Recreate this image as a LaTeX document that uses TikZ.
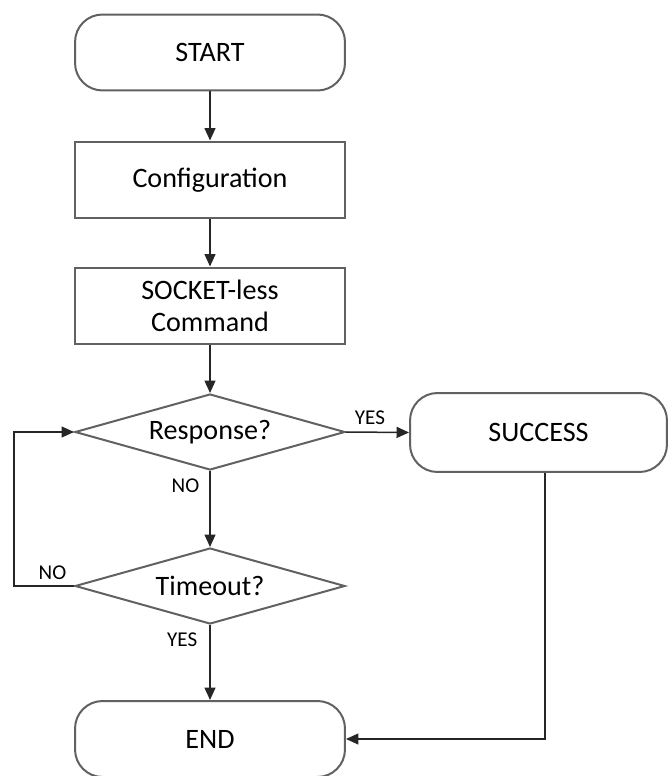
\documentclass[tikz,border=0pt]{standalone}
\usepackage{fontspec}
\setmainfont{Carlito}
\usetikzlibrary{shapes.geometric,arrows.meta}
\newcommand{\boxcol}{black!62}
\newcommand{\linecol}{black!85}
\newcommand{\boxfont}{\fontsize{16}{18.5}\selectfont}
\tikzset{
  term/.style={draw=\boxcol, line width=0.04cm, rounded corners=0.55cm,
    minimum width=5.4cm, minimum height=1.52cm, font=\boxfont},
  proc/.style={draw=\boxcol, line width=0.04cm, minimum width=5.4cm,
    minimum height=1.54cm, align=center, font=\boxfont},
  decide/.style={diamond, aspect=3.55, draw=\boxcol, line width=0.04cm,
    minimum width=5.4cm, minimum height=1.52cm, inner sep=0pt, font=\boxfont},
  flow/.style={draw=\linecol, line width=0.03cm,
    -{Triangle[length=0.25cm,width=0.22cm]}},
  tag/.style={font=\fontsize{12}{14}\selectfont, inner sep=0pt}
}

\begin{document}
\begin{tikzpicture}[x=0.02cm, y=-0.02cm]

    \useasboundingbox (0, 0) rectangle (668, 776);

    \node[term] (start) at (210, 52.5) {START};
    \node[proc] (config) at (210, 180) {Configuration};
    \node[proc] (socket) at (210, 306) {SOCKET-less\\Command};
    \node[decide] (resp) at (210, 432) {Response?};
    \node[term, minimum width=5.14cm, minimum height=1.58cm] (success) at (538.5, 432.5) {SUCCESS};
    \node[decide] (timeout) at (210, 586) {Timeout?};
    \node[term] (end) at (210, 739) {END};

    \coordinate (loop) at (14, 586);
    \coordinate (turn) at (545, 739);

    \draw[flow] (start) -- (config);
    \draw[flow] (config) -- (socket);
    \draw[flow] (socket) -- (resp);
    \draw[flow] (resp.east) -- node[tag, above=0.14cm, pos=0.38] {YES} (success.west);
    \draw[flow] (resp.south) -- node[tag, left=0.2cm, pos=0.2] {NO} (timeout.north);

    % back to the question
    \draw[flow] (timeout.west) -- node[tag, above=0.12cm, pos=0.36] {NO} (loop) |- (resp.west);
    \draw[flow] (timeout.south) -- node[tag, left=0.24cm, pos=0.19] {YES} (end.north);
    \draw[flow] (success.south -| turn) -- (turn) -- (end.east);

  \end{tikzpicture}
\end{document}
